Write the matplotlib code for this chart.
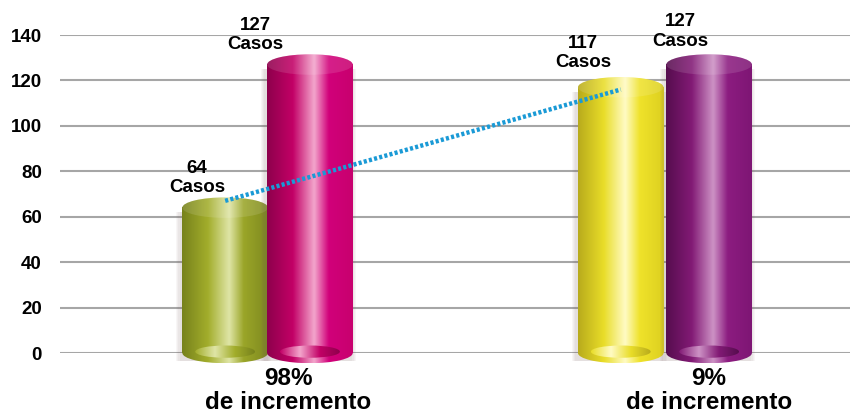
import numpy as np
import matplotlib.pyplot as plt
from matplotlib.colors import LinearSegmentedColormap
from matplotlib.patches import Rectangle, Ellipse

# values
values = [64, 127, 117, 127]
top_labels = ["64\nCasos", "127\nCasos", "117\nCasos", "127\nCasos"]
bottom_labels = ["98%\nde incremento", "9%\nde incremento"]
y_ticks = [0, 20, 40, 60, 80, 100, 120, 140]

# layout (group centers at 0 and 1)
bar_x = [-0.105, 0.108, 0.889, 1.111]
bar_w = 0.215
label_x = [-0.176, -0.030, 0.794, 1.038]
label_gap = [5.0, 5.0, 7.0, 6.5]
bottom_x = [0.053, 1.111]

# dark, mid, highlight, edge
palettes = [
    ["#77821c", "#a2ad2b", "#dfe5a6", "#9aa528", "#7f8a20"],
    ["#8e004c", "#c20066", "#f3a6cc", "#d1007a", "#c8006e"],
    ["#b8ab1c", "#e9dd28", "#fffbc4", "#efe22a", "#ddd020"],
    ["#560d4e", "#821a75", "#cd92c5", "#8c1c80", "#7e1674"],
]
EH = 9.0  # ellipse height in data units


def cyl_cmap(p):
    return LinearSegmentedColormap.from_list(
        "c", [(0, p[0]), (0.3, p[1]), (0.55, p[2]), (0.72, p[3]), (1, p[4])])


grad = np.linspace(0, 1, 256).reshape(1, -1)

fig = plt.figure(figsize=(8.5, 4.19), dpi=100)
ax = fig.add_axes([60 / 850, 66 / 419, 790 / 850, 318 / 419])
ax.set_xlim(-0.52, 1.465)
ax.set_ylim(0, 140)

ax.set_yticks(y_ticks)
ax.yaxis.grid(True, color="#a6a6a6", linewidth=1.5)
ax.set_axisbelow(True)
ax.tick_params(axis="y", length=0, pad=13, labelsize=13.5)
for lab in ax.get_yticklabels():
    lab.set_fontweight("bold")
    lab.set_fontfamily("Liberation Sans")
ax.set_xticks([])
for s in ax.spines.values():
    s.set_visible(False)


def gradient_fill(patch, cmap, x0, x1, y0, y1, z):
    patch.set_transform(ax.transData)
    im = ax.imshow(grad, cmap=cmap, extent=[x0, x1, y0, y1], aspect="auto",
                   interpolation="bicubic", zorder=z)
    im.set_clip_path(patch)
    im.set_clip_box(fig.bbox)
    return im


for i, (x, v) in enumerate(zip(bar_x, values)):
    cmap = cyl_cmap(palettes[i])
    x0, x1 = x - bar_w / 2, x + bar_w / 2
    z = 2 + i * 0.1
    # soft shadow
    for k in range(4):
        d = 0.003 * (k + 1)
        ax.add_patch(Rectangle((x0 - d - 0.004, -EH / 2 + 1), bar_w + 2 * d,
                               v + EH / 2 - 3, facecolor="#7a6060", alpha=0.05,
                               linewidth=0, zorder=z - 0.05, clip_on=False))
    body = Rectangle((x0, 0), bar_w, v)
    gradient_fill(body, cmap, x0, x1, 0, v, z)
    outer = Ellipse((x, 0), bar_w, EH)
    gradient_fill(outer, cmap, x0, x1, -EH / 2, EH / 2, z + 0.01)
    inner = Ellipse((x, 0.6), bar_w * 0.7, EH * 0.6)
    icm = LinearSegmentedColormap.from_list(
        "i", [palettes[i][1], palettes[i][2], palettes[i][1], palettes[i][0]])
    gradient_fill(inner, icm, x - bar_w * 0.35, x + bar_w * 0.35,
                  0.6 - EH * 0.3, 0.6 + EH * 0.3, z + 0.02)
    top = Ellipse((x, v), bar_w, EH)
    gradient_fill(top, cmap, x0, x1, v - EH / 2, v + EH / 2, z + 0.03)
    ax.add_patch(Ellipse((x, v), bar_w, EH, facecolor="white", alpha=0.12,
                         linewidth=0, zorder=z + 0.04))

    ax.text(label_x[i], v + label_gap[i], top_labels[i], ha="center", va="bottom",
            fontsize=13.5, fontweight="bold", family="Liberation Sans",
            linespacing=1.2, zorder=10)

# dotted trend line from first to third bar
ax.plot([bar_x[0], bar_x[2]], [values[0] + 3, values[2] - 1], color="#1a9ad6",
        linewidth=3.2, linestyle=(0, (0.7, 0.5)), zorder=9, solid_capstyle="butt")

for bx, txt in zip(bottom_x, bottom_labels):
    ax.text(bx, -6.2, txt, ha="center", va="top", fontsize=17.5,
            fontweight="bold", family="Liberation Sans", linespacing=1.05,
            clip_on=False, zorder=10)

ax.set_xlim(-0.52, 1.465)
ax.set_ylim(0, 140)
fig.savefig("out.png", dpi=100)
